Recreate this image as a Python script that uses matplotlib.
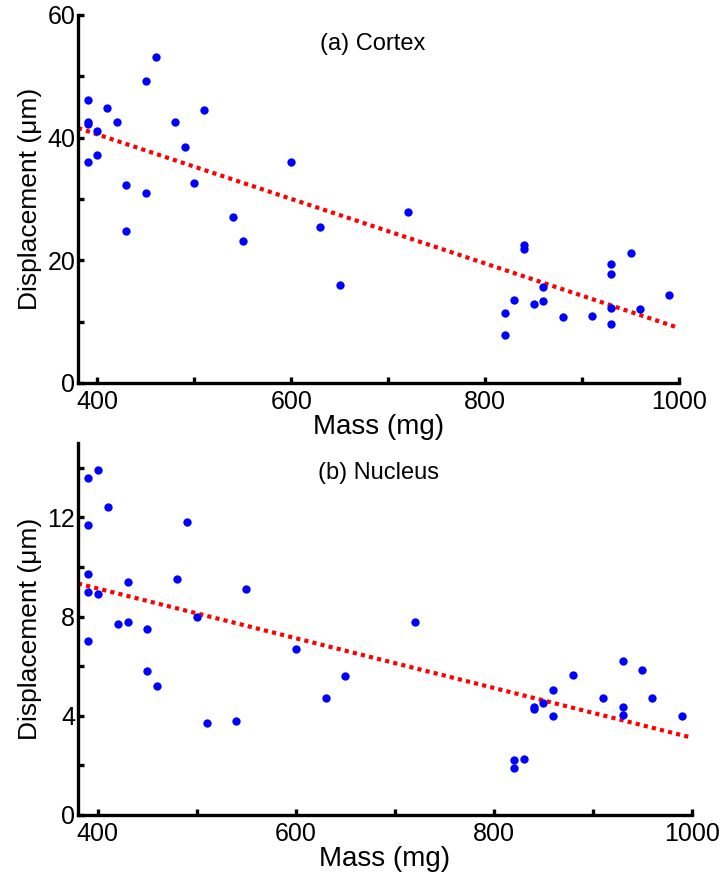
import numpy as np
import matplotlib
matplotlib.use("Agg")
import matplotlib.pyplot as plt
from matplotlib.ticker import MultipleLocator

plt.rcParams["font.family"] = ["Liberation Sans", "DejaVu Sans"]

# (a) cortex
mass_cortex = [390, 390, 390, 390, 400, 400, 410, 420, 430, 430, 450, 450, 460,
               480, 490, 500, 510, 540, 550, 600, 630, 650, 720, 820, 820, 830,
               840, 840, 850, 860, 860, 880, 910, 930, 930, 930, 930, 950, 960, 990]
disp_cortex = [46.1, 42.5, 42.2, 36.0, 41.1, 37.2, 44.8, 42.6, 32.3, 24.8, 49.3, 31.0, 53.1,
               42.6, 38.4, 32.6, 44.5, 27.1, 23.2, 36.0, 25.5, 16.0, 27.9, 11.4, 7.8, 13.5,
               22.5, 21.8, 12.9, 15.7, 13.4, 10.8, 10.9, 19.4, 17.8, 12.2, 9.6, 21.2, 12.1, 14.4]

# (b) nucleus
mass_nucleus = [390, 390, 390, 390, 390, 400, 400, 410, 420, 430, 430, 450, 450,
                460, 480, 490, 500, 510, 540, 550, 600, 630, 650, 720, 820, 820,
                830, 840, 840, 850, 860, 860, 880, 910, 930, 930, 930, 950, 960, 990]
disp_nucleus = [13.6, 11.7, 9.7, 9.0, 7.0, 13.9, 8.9, 12.4, 7.7, 9.4, 7.8, 7.5, 5.8,
                5.2, 9.5, 11.8, 8.0, 3.7, 3.8, 9.1, 6.7, 4.7, 5.6, 7.8, 2.2, 1.9,
                2.25, 4.35, 4.28, 4.5, 5.05, 4.0, 5.65, 4.7, 6.2, 4.35, 4.05, 5.85, 4.7, 4.0]

panels = [
    ("(a) Cortex", mass_cortex, disp_cortex, 60, 20, 10,
     [78 / 728, 1 - 383 / 891, 601 / 728, 368 / 891]),
    ("(b) Nucleus", mass_nucleus, disp_nucleus, 15, 4, 2,
     [78 / 728, 1 - 815 / 891, 614 / 728, 372 / 891]),
]

fig = plt.figure(figsize=(7.28, 8.91), dpi=100)

for title, mass, disp, ymax, ymaj, ymin, rect in panels:
    ax = fig.add_axes(rect)
    ax.plot(mass, disp, "o", color="#0000ff", markersize=6.0, markeredgewidth=0, zorder=3)

    # least-squares trend line
    coef = np.polyfit(mass, disp, 1)
    xs = np.array([380, 1000])
    ax.plot(xs, np.polyval(coef, xs), color="#ff0000", linewidth=3.0,
            linestyle=(0, (1.0, 1.0)), dash_capstyle="butt", zorder=2)

    ax.set_xlim(380, 1000)
    ax.set_ylim(0, ymax)
    ax.xaxis.set_major_locator(MultipleLocator(200))
    ax.xaxis.set_minor_locator(MultipleLocator(100))
    ax.yaxis.set_major_locator(MultipleLocator(ymaj))
    ax.yaxis.set_minor_locator(MultipleLocator(ymin))
    for side in ["top", "right"]:
        ax.spines[side].set_visible(False)
    for side in ["left", "bottom"]:
        ax.spines[side].set_linewidth(2.4)
    ax.tick_params(which="both", direction="in", length=4, width=2.4, labelsize=18)
    ax.tick_params(axis="x", pad=5)
    ax.tick_params(axis="y", pad=2)

    ax.set_xlabel("Mass (mg)", fontsize=20, labelpad=0)
    ax.set_ylabel("Displacement (\u03bcm)", fontsize=19, labelpad=4)
    ax.text(0.49, 0.92, title, transform=ax.transAxes, ha="center", va="center", fontsize=17)

fig.savefig("out.png", dpi=100)
